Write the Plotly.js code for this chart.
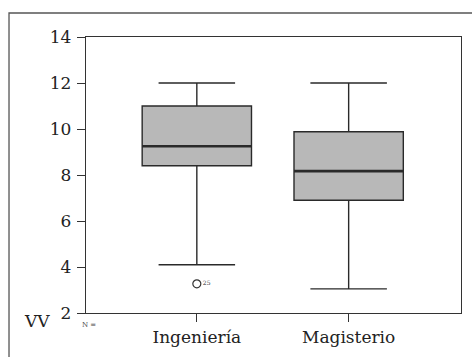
<!DOCTYPE html>
<html>
<head>
<meta charset="utf-8">
<script src="https://cdn.plot.ly/plotly-3.0.1.min.js"></script>
<style>
  html, body { margin: 0; padding: 0; background: #ffffff; }
  #chart { width: 472px; height: 357px; }
</style>
</head>
<body>
<div id="chart"></div>
<script>
// Categories and box statistics
const categories = ['Ingeniería', 'Magisterio'];
const lowerWhisker = [4.1, 3.05];
const q1Values = [8.4, 6.9];
const medianValues = [9.25, 8.17];
const q3Values = [11.0, 9.88];
const upperWhisker = [12.0, 12.0];
const outlierCategory = ['Ingeniería'];
const outlierValues = [3.27];
const outlierLabels = ['25'];
const yTicks = [2, 4, 6, 8, 10, 12, 14];

const serif = 'DejaVu Serif';

const boxTrace = {
  type: 'box',
  x: categories,
  q1: q1Values,
  median: medianValues,
  q3: q3Values,
  lowerfence: lowerWhisker,
  upperfence: upperWhisker,
  boxpoints: false,
  width: 0.72,
  whiskerwidth: 0.7,
  fillcolor: '#b8b8b8',
  line: { color: '#2a2a2a', width: 1.4 },
  hoverinfo: 'skip',
  showlegend: false
};

// Thicker median line drawn as a degenerate box at the median values
const medianTrace = {
  type: 'box',
  x: categories,
  q1: medianValues,
  median: medianValues,
  q3: medianValues,
  lowerfence: medianValues,
  upperfence: medianValues,
  boxpoints: false,
  width: 0.72,
  whiskerwidth: 0,
  fillcolor: 'rgba(0,0,0,0)',
  line: { color: '#2a2a2a', width: 2.6 },
  hoverinfo: 'skip',
  showlegend: false
};

const outlierTrace = {
  type: 'scatter',
  mode: 'markers+text',
  x: outlierCategory,
  y: outlierValues,
  text: outlierLabels,
  textposition: 'middle right',
  textfont: { family: serif, size: 6, color: '#333333' },
  marker: { symbol: 'circle-open', size: 8, color: '#333333', line: { width: 1.2 } },
  showlegend: false,
  hoverinfo: 'skip'
};

const layout = {
  width: 472,
  height: 357,
  margin: { l: 86, r: 11, t: 37, b: 44, pad: 0 },
  paper_bgcolor: '#ffffff',
  plot_bgcolor: '#ffffff',
  showlegend: false,
  boxmode: 'overlay',
  font: { family: serif, color: '#222222' },
  xaxis: {
    type: 'category',
    range: [-0.73, 1.74],
    showgrid: false,
    zeroline: false,
    showline: true,
    mirror: true,
    linecolor: '#333333',
    linewidth: 1.2,
    ticks: 'outside',
    ticklen: 8,
    tickwidth: 1,
    tickcolor: '#333333',
    tickfont: { family: serif, size: 17, color: '#222222' },
    fixedrange: true
  },
  yaxis: {
    range: [2, 14],
    tickvals: yTicks,
    ticktext: yTicks.map(String),
    showgrid: false,
    zeroline: false,
    showline: true,
    mirror: true,
    linecolor: '#333333',
    linewidth: 1.2,
    ticks: 'outside',
    ticklen: 8,
    tickwidth: 1,
    tickcolor: '#333333',
    ticklabelstandoff: 2,
    tickfont: { family: serif, size: 17, color: '#222222' },
    fixedrange: true
  },
  shapes: [
    {
      type: 'rect', xref: 'paper', yref: 'paper',
      x0: -0.2053, x1: 1.04, y0: -0.2, y1: 1.087,
      line: { color: '#555555', width: 1.3 }, fillcolor: 'rgba(0,0,0,0)', layer: 'above'
    }
  ],
  annotations: [
    {
      text: 'VV', xref: 'paper', yref: 'paper', x: -0.132, y: -0.03,
      xanchor: 'center', yanchor: 'middle', showarrow: false,
      font: { family: serif, size: 17, color: '#222222' }
    },
    {
      text: 'N =', xref: 'paper', yref: 'paper', x: -0.015, y: -0.045,
      xanchor: 'left', yanchor: 'middle', showarrow: false,
      font: { family: serif, size: 7, color: '#444444' }
    }
  ]
};

Plotly.newPlot('chart', [boxTrace, medianTrace, outlierTrace], layout, { staticPlot: true, displayModeBar: false });
</script>
</body>
</html>
